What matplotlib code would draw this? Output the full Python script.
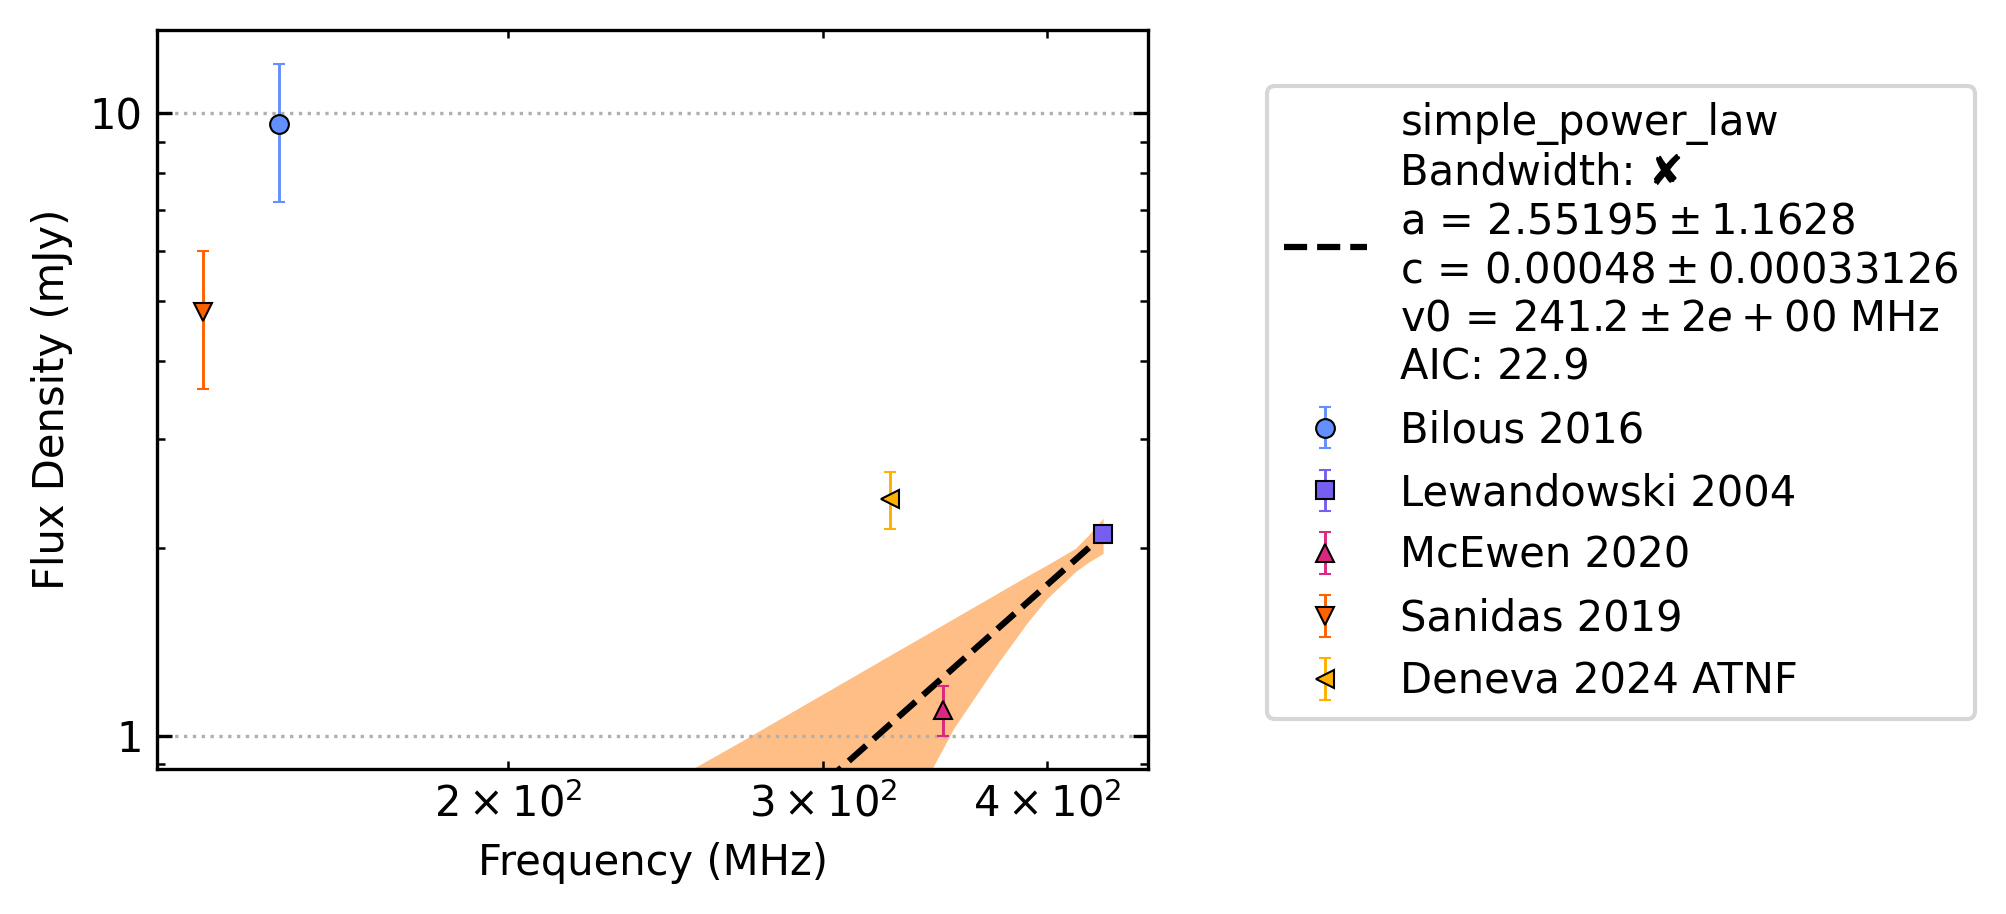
import numpy as np
import matplotlib
matplotlib.use("Agg")
import matplotlib.pyplot as plt
from matplotlib.ticker import FormatStrFormatter, NullFormatter

# measured flux densities (mJy) per survey
labels = ['Bilous 2016', 'Lewandowski 2004', 'McEwen 2020', 'Sanidas 2019', 'Deneva 2024 ATNF']
freqs = [149.0, 430.0, 350.0, 135.0, 327.0]
fluxes = [9.6, 2.11, 1.1, 4.8, 2.4]
flux_errs = [2.4, 0.04, 0.1, 1.2, 0.25]
markers = ['o', 's', '^', 'v', '<']
colors = ['#648FFF', '#785EF0', '#DC267F', '#FE6100', '#FFB000']

# simple power law fit (line end points, mJy)
fit_freq = [135.0, 430.0]
fit_flux = [0.109, 2.10]
fit_label = ("simple_power_law\nBandwidth: \u2718\n"
             "a = $2.55195 \\pm 1.1628$\n"
             "c = $0.00048 \\pm 0.00033126$\n"
             "v0 = $241.2 \\pm 2e+00$ MHz\n"
             "AIC: 22.9")

# fit uncertainty band
band_freq = [240, 255, 270, 290, 310, 330, 345, 355, 375, 390, 400, 415, 422, 430]
band_upper = [0.806, 0.893, 0.98, 1.104, 1.233, 1.368, 1.472, 1.544, 1.691, 1.805, 1.88, 2.0, 2.1, 2.236]
band_lower = [0.12, 0.167, 0.23, 0.34, 0.49, 0.69, 0.884, 1.03, 1.30, 1.518, 1.66, 1.835, 1.90, 1.962]

fig = plt.figure(figsize=(2006 / 300, 914 / 300), dpi=300)
ax = fig.add_axes([0.0783, 0.1586, 0.494, 0.8086])

ax.plot(fit_freq, fit_flux, color='black', linestyle='--', linewidth=1.5, label=fit_label, zorder=3)
ax.fill_between(band_freq, band_lower, band_upper, color='C1', alpha=0.5, linewidth=0, zorder=1)

for lab, f, s, e, m, c in zip(labels, freqs, fluxes, flux_errs, markers, colors):
    ax.errorbar(f, s, yerr=e, fmt=m, color=c, ecolor=c, markersize=4.5,
                markeredgecolor='black', markeredgewidth=0.5, elinewidth=0.7,
                capsize=1.5, capthick=0.7, label=lab, zorder=4)

ax.set_xscale('log')
ax.set_yscale('log')
ax.set_xlim(127.3, 455.6)
ax.set_ylim(0.884, 13.6)

ax.yaxis.set_major_formatter(FormatStrFormatter('%g'))
ax.yaxis.set_minor_formatter(NullFormatter())
ax.tick_params(which='both', direction='in', top=True, right=True, labelsize=10)
ax.grid(axis='y', which='major', linestyle=':', color='#b0b0b0', linewidth=0.8)

ax.set_xlabel('Frequency (MHz)', fontsize=10)
ax.set_ylabel('Flux Density (mJy)', fontsize=10)

ax.legend(loc='center left', bbox_to_anchor=(1.12, 0.496), borderaxespad=0, fontsize=10)

fig.savefig('out.png', dpi=300)
